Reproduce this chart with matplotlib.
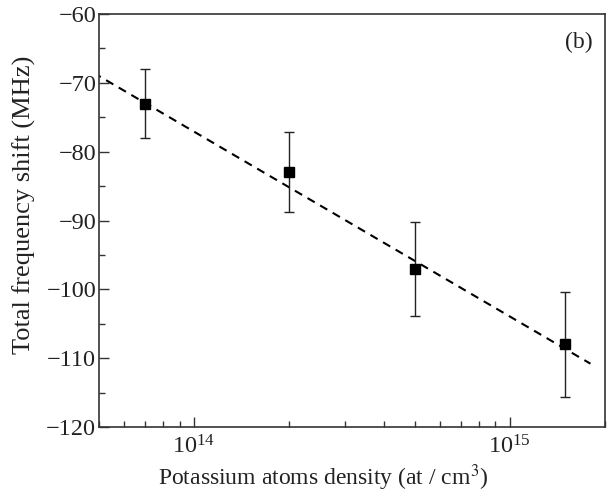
import matplotlib
matplotlib.use("Agg")
import matplotlib.pyplot as plt
from matplotlib.ticker import LogLocator, LogFormatterMathtext, NullFormatter, MultipleLocator

plt.rcParams['font.family'] = ['Liberation Serif', 'DejaVu Serif']
plt.rcParams['mathtext.fontset'] = 'stix'

density = [7e13, 2e14, 5e14, 1.5e15]
shift = [-73, -83, -97, -108]
err = [5.0, 5.8, 6.8, 7.6]
fit_x = [4.0e13, 1.8e15]
fit_y = [-66.4, -110.8]

fig = plt.figure(figsize=(6.11, 4.94), dpi=100)
ax = fig.add_axes([0.162, 0.1356, 0.828, 0.836])

ax.plot(fit_x, fit_y, color='black', lw=1.5, dashes=(4, 3), zorder=2)
ax.errorbar(density, shift, yerr=err, fmt='s', color='black', ms=6.5,
            ecolor='#222222', elinewidth=1.0, capsize=3.5, capthick=1.0, zorder=3)

ax.set_xscale('log')
ax.set_xlim(5e13, 2e15)
ax.set_ylim(-120, -60)
ax.xaxis.set_major_locator(LogLocator(base=10, numticks=10))
ax.xaxis.set_major_formatter(LogFormatterMathtext())
ax.xaxis.set_minor_locator(LogLocator(base=10, subs=range(2, 10), numticks=20))
ax.xaxis.set_minor_formatter(NullFormatter())
ax.yaxis.set_major_locator(MultipleLocator(10))
ax.yaxis.set_minor_locator(MultipleLocator(5))

ax.tick_params(which='both', direction='in', top=False, right=False, colors='#333333',
               labelcolor='#222222', labelsize=17.5)
ax.tick_params(which='major', length=7, width=1.0)
ax.tick_params(which='minor', length=4, width=1.0)
ax.tick_params(axis='x', pad=6)
ax.tick_params(axis='y', pad=2)

for s in ax.spines.values():
    s.set_color('#333333')
    s.set_linewidth(1.2)

ax.set_xlabel('Potassium atoms density (at / cm$^3$)', fontsize=17, color='#222222', labelpad=3)
ax.set_ylabel('Total frequency shift (MHz)', fontsize=19, color='#222222', labelpad=7)
ax.xaxis.label.set_x(0.443)
ax.yaxis.label.set_y(0.537)
ax.text(0.975, 0.93, '(b)', transform=ax.transAxes, ha='right', va='center', fontsize=17, color='#222222')

fig.savefig('out.png', dpi=100)
